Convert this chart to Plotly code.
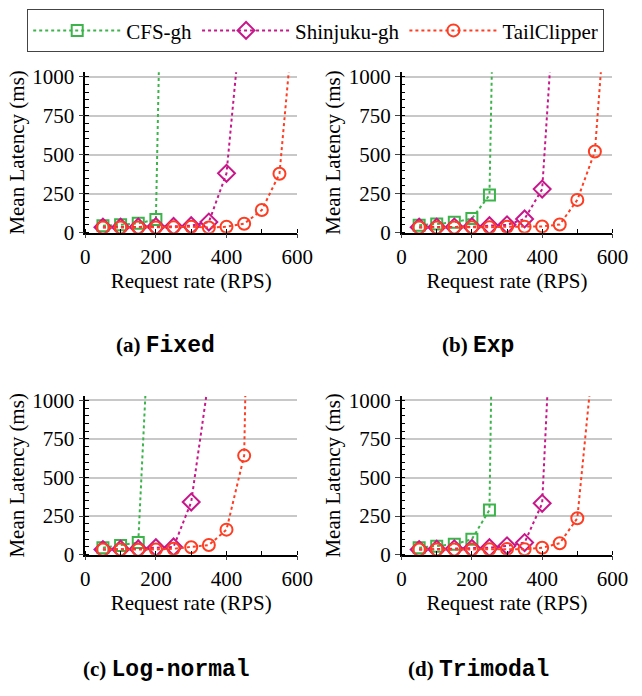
import plotly.graph_objects as go

# ---------------- data ----------------
series_names = ["CFS-gh", "Shinjuku-gh", "TailClipper"]
panel_labels = ["(a)", "(b)", "(c)", "(d)"]
panel_names = ["Fixed", "Exp", "Log-normal", "Trimodal"]

# Fixed
cfs_fixed_x = [50, 100, 150, 200, 250]
cfs_fixed_y = [45, 50, 60, 84, 5800]
shin_fixed_x = [50, 100, 150, 200, 250, 300, 350, 400, 450]
shin_fixed_y = [35, 35, 37, 38, 40, 45, 68, 380, 1570]
tail_fixed_x = [50, 100, 150, 200, 250, 300, 350, 400, 450, 500, 550, 600]
tail_fixed_y = [33, 33, 33, 33, 35, 38, 33, 38, 57, 145, 377, 1620]

# Exp
cfs_exp_x = [50, 100, 150, 200, 250, 300]
cfs_exp_y = [48, 55, 67, 90, 241, 6080]
shin_exp_x = [50, 100, 150, 200, 250, 300, 350, 400, 450]
shin_exp_y = [35, 35, 36, 38, 45, 50, 88, 279, 2000]
tail_exp_x = [50, 100, 150, 200, 250, 300, 350, 400, 450, 500, 550, 600]
tail_exp_y = [33, 33, 33, 35, 35, 38, 38, 40, 52, 210, 520, 2020]

# Log-normal
cfs_ln_x = [50, 100, 150, 200]
cfs_ln_y = [45, 60, 78, 2440]
shin_ln_x = [50, 100, 150, 200, 250, 300, 350]
shin_ln_y = [33, 35, 37, 45, 50, 341, 1145]
tail_ln_x = [50, 100, 150, 200, 250, 300, 350, 400, 450, 500]
tail_ln_y = [33, 33, 32, 33, 38, 48, 62, 162, 642, 6600]

# Trimodal
cfs_tri_x = [50, 100, 150, 200, 250, 300]
cfs_tri_y = [45, 55, 67, 100, 290, 8000]
shin_tri_x = [50, 100, 150, 200, 250, 300, 350, 400, 450]
shin_tri_y = [33, 35, 38, 40, 45, 57, 78, 333, 2715]
tail_tri_x = [50, 100, 150, 200, 250, 300, 350, 400, 450, 500, 550]
tail_tri_y = [33, 33, 33, 33, 35, 37, 35, 45, 74, 236, 1394]

panels = [
    [(cfs_fixed_x, cfs_fixed_y), (shin_fixed_x, shin_fixed_y), (tail_fixed_x, tail_fixed_y)],
    [(cfs_exp_x, cfs_exp_y), (shin_exp_x, shin_exp_y), (tail_exp_x, tail_exp_y)],
    [(cfs_ln_x, cfs_ln_y), (shin_ln_x, shin_ln_y), (tail_ln_x, tail_ln_y)],
    [(cfs_tri_x, cfs_tri_y), (shin_tri_x, shin_tri_y), (tail_tri_x, tail_tri_y)],
]

x_ticks = [0, 200, 400, 600]
y_ticks = [0, 250, 500, 750, 1000]

# ---------------- styles ----------------
colors = ["#3CB44B", "#C8178A", "#FF3D22"]
symbols = ["square-open", "diamond-open", "circle-open"]
msizes = [11, 13, 12]

W, H = 642, 696
xdom = [(83 / W, 302 / W), (410 / W, 628 / W)]
ydom = [(1 - 232 / H, 1 - 67 / H), (1 - 563 / H, 1 - 400 / H)]
serif = "Liberation Serif"
FS = 21

fig = go.Figure()
for p, data in enumerate(panels):
    ax = "" if p == 0 else str(p + 1)
    for s, (xs, ys) in enumerate(data):
        fig.add_trace(go.Scatter(
            x=xs, y=ys, mode="lines+markers",
            name=series_names[s], showlegend=(p == 0),
            line=dict(color=colors[s], width=2, dash="dot"),
            marker=dict(symbol=symbols[s], size=msizes[s], color=colors[s],
                        line=dict(width=2, color=colors[s])),
            xaxis="x" + ax, yaxis="y" + ax,
        ))

layout = dict(
    width=W, height=H,
    margin=dict(l=0, r=0, t=0, b=0),
    paper_bgcolor="white", plot_bgcolor="white",
    font=dict(family=serif, size=FS, color="black"),
    legend=dict(orientation="h", x=0.5, xanchor="center", y=0.997, yanchor="top",
                bordercolor="#444", borderwidth=1.2, font=dict(size=FS, family=serif),
                itemwidth=88, tracegroupgap=0),
)
for p in range(4):
    ax = "" if p == 0 else str(p + 1)
    col, row = p % 2, p // 2
    layout["xaxis" + ax] = dict(
        domain=list(xdom[col]), anchor="y" + ax, range=[0, 600],
        tickvals=x_ticks, ticks="outside", ticklen=4, tickwidth=1.2,
        showline=True, linecolor="black", linewidth=1.5, showgrid=False, zeroline=False,
        minor=dict(dtick=100, ticks="inside", ticklen=4, tickwidth=1, tickcolor="black", showgrid=False),
        tickfont=dict(size=FS, family=serif),
        title=dict(text="Request rate (RPS)", font=dict(size=FS, family=serif), standoff=0),
    )
    layout["yaxis" + ax] = dict(
        domain=list(ydom[row]), anchor="x" + ax, range=[0, 1028],
        tickvals=y_ticks, ticks="outside", ticklen=5, tickwidth=1.2,
        showline=True, linecolor="black", linewidth=1.5,
        showgrid=True, gridcolor="#c8c8c8", gridwidth=1.5, zeroline=False,
        minor=dict(dtick=50, ticks="inside", ticklen=4, tickwidth=1, tickcolor="black", showgrid=False),
        tickfont=dict(size=FS, family=serif),
        title=dict(text="Mean Latency (ms)", font=dict(size=FS, family=serif), standoff=2),
    )
fig.update_layout(**layout)

cap_pos = [(166, 349), (489, 349), (167, 682), (489, 682)]
for p in range(4):
    cx, cy = cap_pos[p]
    fig.add_annotation(
        x=cx / W, y=1 - cy / H, xref="paper", yref="paper", showarrow=False,
        xanchor="center", yanchor="middle",
        text="<b>" + panel_labels[p] + " <span style=\"font-family:Liberation Mono;font-size:23px\">"
             + panel_names[p] + "</span></b>",
        font=dict(size=21, family=serif),
    )

fig.write_html("out.html")
